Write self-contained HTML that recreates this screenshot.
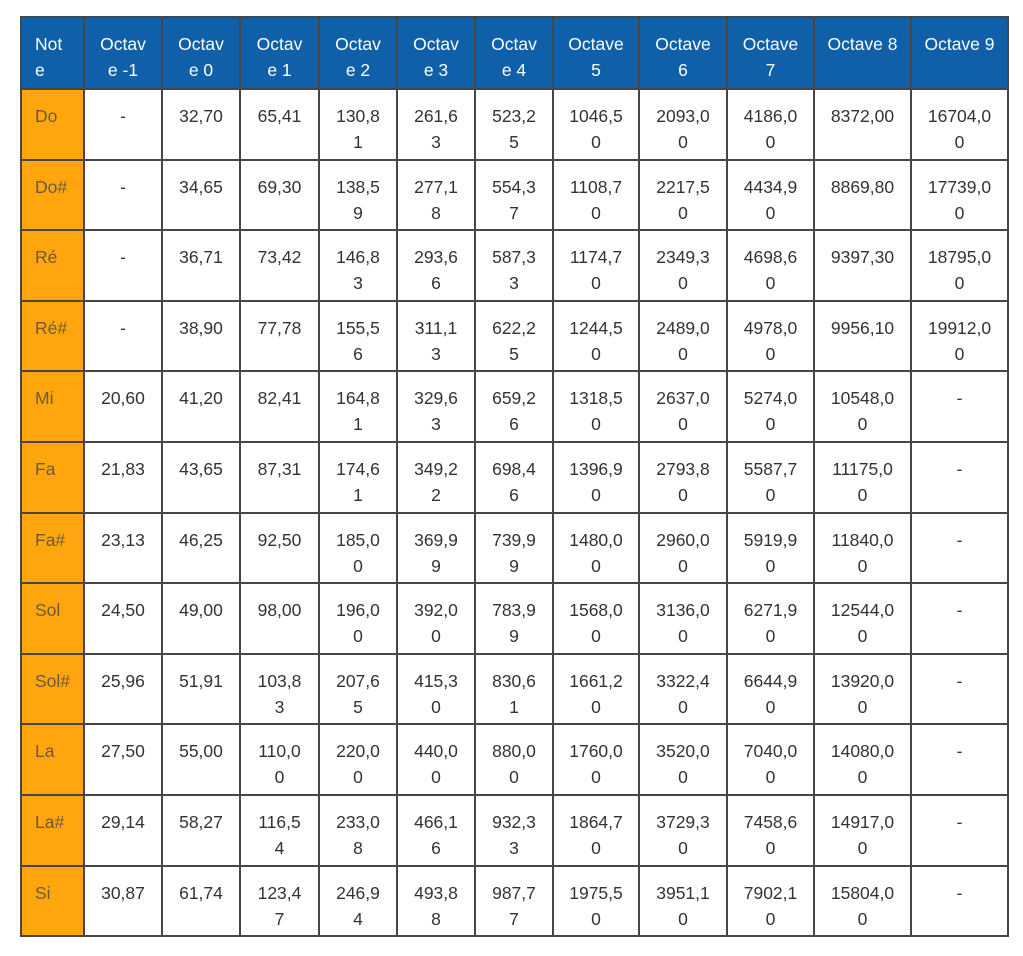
<!DOCTYPE html>
<html>
<head>
<meta charset="utf-8">
<style>
html,body{margin:0;padding:0;background:#fff;}
body{width:1023px;height:956px;position:relative;overflow:hidden;font-family:"Liberation Sans",sans-serif;}
.t{position:absolute;left:20px;top:16px;background:#464646;padding:2px;display:grid;
grid-template-columns:61px 76px 76px 77px 76px 76px 76px 84px 86px 85px 95px 95px;
grid-template-rows:70px repeat(12,68.6px);gap:2px;}
.t div{background:#fff;color:#333;font-size:17.5px;line-height:26px;padding-top:13px;text-align:center;white-space:nowrap;overflow:hidden;box-sizing:border-box;}
.t div.h{background:#0f5fa9;color:#fff;}
.t div.h.f{text-align:left;padding-left:13px;}
.t div.n{background:#ffa60f;color:#6e5a36;text-align:left;padding-left:13px;}
</style>
</head>
<body>
<div class="t">
<div class="h f">Not<br>e</div><div class="h">Octav<br>e -1</div><div class="h">Octav<br>e 0</div><div class="h">Octav<br>e 1</div><div class="h">Octav<br>e 2</div><div class="h">Octav<br>e 3</div><div class="h">Octav<br>e 4</div><div class="h">Octave<br>5</div><div class="h">Octave<br>6</div><div class="h">Octave<br>7</div><div class="h">Octave 8</div><div class="h">Octave 9</div>

<div class="n">Do</div><div>-</div><div>32,70</div><div>65,41</div><div>130,8<br>1</div><div>261,6<br>3</div><div>523,2<br>5</div><div>1046,5<br>0</div><div>2093,0<br>0</div><div>4186,0<br>0</div><div>8372,00</div><div>16704,0<br>0</div>

<div class="n">Do#</div><div>-</div><div>34,65</div><div>69,30</div><div>138,5<br>9</div><div>277,1<br>8</div><div>554,3<br>7</div><div>1108,7<br>0</div><div>2217,5<br>0</div><div>4434,9<br>0</div><div>8869,80</div><div>17739,0<br>0</div>

<div class="n">Ré</div><div>-</div><div>36,71</div><div>73,42</div><div>146,8<br>3</div><div>293,6<br>6</div><div>587,3<br>3</div><div>1174,7<br>0</div><div>2349,3<br>0</div><div>4698,6<br>0</div><div>9397,30</div><div>18795,0<br>0</div>

<div class="n">Ré#</div><div>-</div><div>38,90</div><div>77,78</div><div>155,5<br>6</div><div>311,1<br>3</div><div>622,2<br>5</div><div>1244,5<br>0</div><div>2489,0<br>0</div><div>4978,0<br>0</div><div>9956,10</div><div>19912,0<br>0</div>

<div class="n">Mi</div><div>20,60</div><div>41,20</div><div>82,41</div><div>164,8<br>1</div><div>329,6<br>3</div><div>659,2<br>6</div><div>1318,5<br>0</div><div>2637,0<br>0</div><div>5274,0<br>0</div><div>10548,0<br>0</div><div>-</div>

<div class="n">Fa</div><div>21,83</div><div>43,65</div><div>87,31</div><div>174,6<br>1</div><div>349,2<br>2</div><div>698,4<br>6</div><div>1396,9<br>0</div><div>2793,8<br>0</div><div>5587,7<br>0</div><div>11175,0<br>0</div><div>-</div>

<div class="n">Fa#</div><div>23,13</div><div>46,25</div><div>92,50</div><div>185,0<br>0</div><div>369,9<br>9</div><div>739,9<br>9</div><div>1480,0<br>0</div><div>2960,0<br>0</div><div>5919,9<br>0</div><div>11840,0<br>0</div><div>-</div>

<div class="n">Sol</div><div>24,50</div><div>49,00</div><div>98,00</div><div>196,0<br>0</div><div>392,0<br>0</div><div>783,9<br>9</div><div>1568,0<br>0</div><div>3136,0<br>0</div><div>6271,9<br>0</div><div>12544,0<br>0</div><div>-</div>

<div class="n">Sol#</div><div>25,96</div><div>51,91</div><div>103,8<br>3</div><div>207,6<br>5</div><div>415,3<br>0</div><div>830,6<br>1</div><div>1661,2<br>0</div><div>3322,4<br>0</div><div>6644,9<br>0</div><div>13920,0<br>0</div><div>-</div>

<div class="n">La</div><div>27,50</div><div>55,00</div><div>110,0<br>0</div><div>220,0<br>0</div><div>440,0<br>0</div><div>880,0<br>0</div><div>1760,0<br>0</div><div>3520,0<br>0</div><div>7040,0<br>0</div><div>14080,0<br>0</div><div>-</div>

<div class="n">La#</div><div>29,14</div><div>58,27</div><div>116,5<br>4</div><div>233,0<br>8</div><div>466,1<br>6</div><div>932,3<br>3</div><div>1864,7<br>0</div><div>3729,3<br>0</div><div>7458,6<br>0</div><div>14917,0<br>0</div><div>-</div>

<div class="n">Si</div><div>30,87</div><div>61,74</div><div>123,4<br>7</div><div>246,9<br>4</div><div>493,8<br>8</div><div>987,7<br>7</div><div>1975,5<br>0</div><div>3951,1<br>0</div><div>7902,1<br>0</div><div>15804,0<br>0</div><div>-</div>
</div>
</body>
</html>
